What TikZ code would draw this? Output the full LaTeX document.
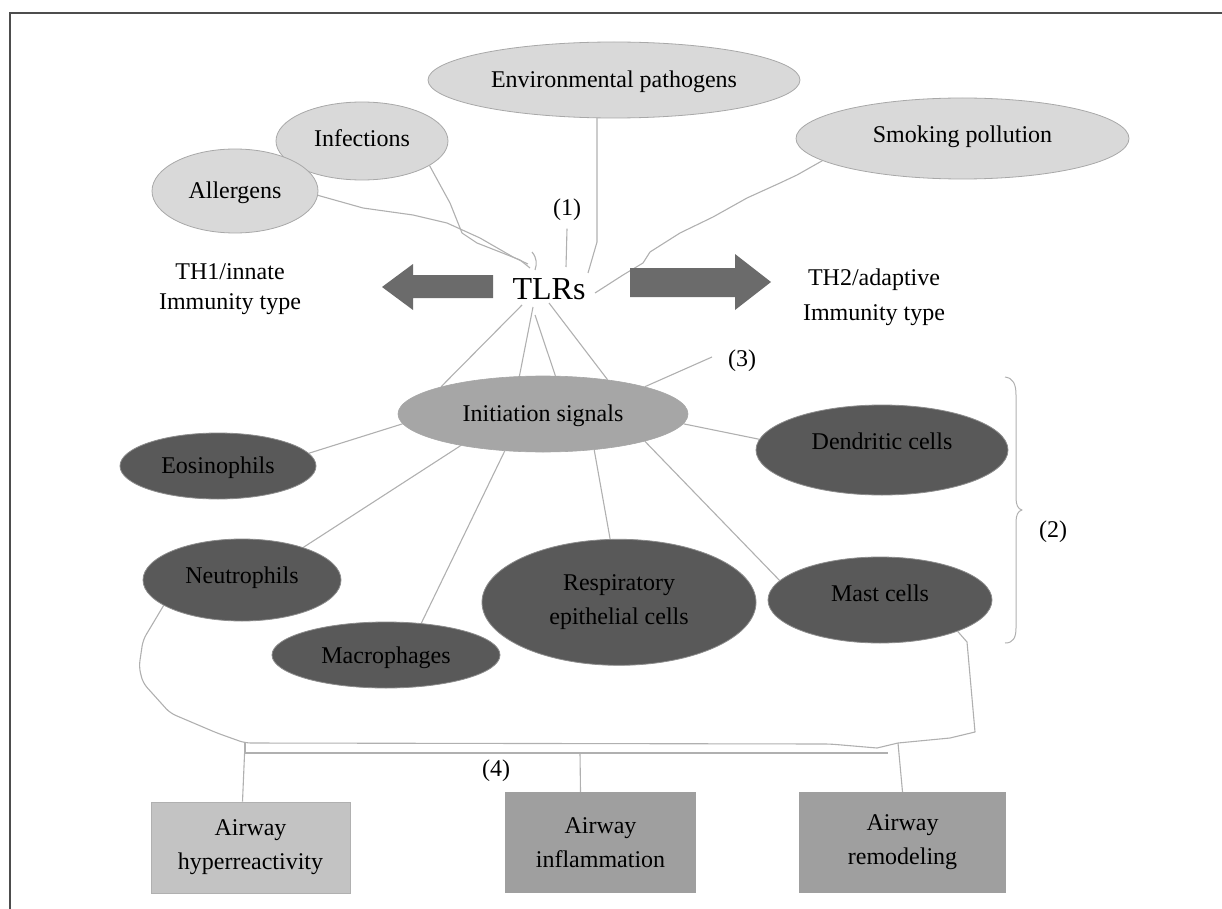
\documentclass[tikz,border=0pt]{standalone}
\usepackage{fontspec}
\setmainfont{Liberation Serif}
\usetikzlibrary{shapes.geometric,backgrounds}
\definecolor{lightfill}{HTML}{D9D9D9}
\definecolor{lightedge}{HTML}{A8A8A8}
\definecolor{midfill}{HTML}{A6A6A6}
\definecolor{darkfill}{HTML}{595959}
\definecolor{darkedge}{HTML}{8C8C8C}
\definecolor{linkgray}{HTML}{B0B0B0}
\definecolor{arrowgray}{HTML}{6B6B6B}
\definecolor{framegray}{HTML}{4D4D4D}
\definecolor{boxlight}{HTML}{C3C3C3}
\definecolor{boxlightedge}{HTML}{B0B0B0}
\definecolor{boxdark}{HTML}{9F9F9F}
\begin{document}
\begin{tikzpicture}[x=1pt,y=-1pt,
  txt/.style={inner sep=0pt, font=\fontsize{24}{30}\selectfont},
  ovalbase/.style={ellipse, inner sep=0pt, font=\fontsize{24}{34}\selectfont},
  oneline/.style={text height=16pt, text depth=0pt},
  lightoval/.style={ovalbase, oneline, fill=lightfill, draw=lightedge, line width=0.8pt},
  midoval/.style={ovalbase, oneline, fill=midfill, draw=midfill, line width=0.6pt},
  darkoval/.style={ovalbase, oneline, fill=darkfill, draw=darkedge, line width=0.8pt},
  darkovalml/.style={ovalbase, align=center, fill=darkfill, draw=darkedge, line width=0.8pt},
  outcome/.style={rectangle, inner sep=0pt, align=center, font=\fontsize{24}{34}\selectfont},
  link/.style={draw=linkgray, line width=1.1pt, line join=round},
  tag/.style={inner sep=0pt, font=\fontsize{24}{26}\selectfont, text height=16pt, text depth=0pt},
]
\useasboundingbox (0,0) rectangle (1222,909);
% frame
\draw[framegray, line width=1.6pt] (10,909) -- (10,13) -- (1222,13);

% source ellipses
\node[lightoval, minimum width=372pt, minimum height=76pt] (env) at (614,80) {Environmental pathogens};
\node[lightoval, minimum width=172pt, minimum height=78pt, text depth=4pt] (infections) at (362,141) {Infections};
\node[lightoval, minimum width=166pt, minimum height=84pt] (allergens) at (235,191) {Allergens};
\node[lightoval, minimum width=333pt, minimum height=81pt, text depth=7pt] (smoking) at (962.5,138.5) {Smoking pollution};

% centre
\node[inner sep=0pt, font=\fontsize{32}{32}\selectfont, text height=21pt, text depth=0pt] (tlrs) at (549,289) {TLRs};
\node[tag] (one) at (567,207) {(1)};

% arrows
\fill[arrowgray] (493,275) -- (413,275) -- (413,264) -- (382,287) -- (413,310) -- (413,298) -- (493,298) -- cycle;
\fill[arrowgray] (630,268) -- (735,268) -- (735,254) -- (771,282) -- (735,310) -- (735,297) -- (630,297) -- cycle;

\node[txt, align=center, font=\fontsize{24}{30}\selectfont] (th1) at (230,289.4) {TH1/innate\\Immunity type};
\node[txt, align=center, font=\fontsize{24}{35}\selectfont] (th2) at (874,296.9) {TH2/adaptive\\Immunity type};

% initiation
\node[midoval, minimum width=290pt, minimum height=76pt, text depth=2pt] (init) at (543,414) {Initiation signals};
\node[tag] (three) at (742,358) {(3)};
\coordinate (c3) at (712,357);

% cells
\node[darkoval, minimum width=196pt, minimum height=66pt, text depth=2pt] (eos) at (218,466) {Eosinophils};
\node[darkoval, minimum width=252pt, minimum height=90pt, text depth=18pt] (dend) at (882,450) {Dendritic cells};
\node[darkoval, minimum width=198pt, minimum height=82pt, text depth=10pt] (neut) at (242,580) {Neutrophils};
\node[darkoval, minimum width=228pt, minimum height=66pt] (macro) at (386,655) {Macrophages};
\node[darkovalml, minimum width=274pt, minimum height=126pt] (resp) at (619,602.3) {Respiratory\\epithelial cells};
\node[darkoval, minimum width=224pt, minimum height=86pt, text depth=14pt] (mast) at (880,600) {Mast cells};

\node[tag] (two) at (1053,529) {(2)};
\node[tag] (four) at (496,768) {(4)};

% outcomes
\node[outcome, fill=boxlight, draw=boxlightedge, line width=0.8pt, minimum width=199pt, minimum height=91pt] (hyper) at (250.5,847.5) {Airway\\hyperreactivity};
\node[outcome, fill=boxdark, minimum width=191pt, minimum height=101pt] (infl) at (600.5,842.5) {Airway\\inflammation};
\node[outcome, fill=boxdark, minimum width=207pt, minimum height=101pt] (remod) at (902.5,842.5) {Airway\\remodeling};

% bus coordinates
\coordinate (busL) at (245,743);
\coordinate (busJ) at (877,748);
\coordinate (busLow) at (245,753);
\coordinate (busLowR) at (888,753);
\coordinate (tapI) at (580,753);
\coordinate (tapR) at (898,743);

\begin{scope}[on background layer]
% sources to TLRs
\draw[link] (allergens.-3) -- (363,208) -- (413,215) -- (447,223) -- (480,238) -- (513,257) -- ([shift={(-21,-25)}]tlrs.center);
\draw[link] (infections.-20) -- (450,203) -- (462,233) -- (477,243) -- (500,252) -- (520,260) -- ([shift={(-19,-21)}]tlrs.center);
\draw[link] (env.246) -- (597,242) -- ([shift={(39,-16)}]tlrs.center);
\draw[link] (smoking.189) -- (797,175) -- (780,183) -- (747,198) -- (713,217) -- (680,233) -- (650,252) -- (643,263) -- (623,275) -- ([shift={(46,4)}]tlrs.center);
\draw[link] ([yshift=-13.5pt]one.south) -- ([shift={(17,-22)}]tlrs.center);
\draw[link] ([shift={(-17,-37)}]tlrs.center) .. controls ([shift={(-12,-31)}]tlrs.center) and ([shift={(-12,-25)}]tlrs.center) .. ([shift={(-14,-19)}]tlrs.center);
% TLRs to initiation
\draw[link] ([shift={(-27,16)}]tlrs.center) -- (init.165);
\draw[link] ([shift={(-16,18)}]tlrs.center) -- (init.122);
\draw[link] ([shift={(-14,26)}]tlrs.center) -- (init.72);
\draw[link] ([shift={(0,14)}]tlrs.center) -- (init.28);
\draw[link] (init.15) -- (c3);
% initiation to cells
\draw[link] (init.184) -- (eos.8);
\draw[link] (init.-4) -- (dend.175);
\draw[link] (init.201) -- (neut.28);
\draw[link] (init.224) -- (macro.42);
\draw[link] (init.-35) -- (resp.98);
\draw[link] (init.-15) -- (mast.169);
% cells to bus
\draw[link, rounded corners=6pt] (neut.198) -- (143,640) -- (139,667) -- (143,683) -- (170,713) -- (217,733) -- (busL) -- (830,744) -- (busJ);
\draw[link] (mast.-22) -- (967,642) -- (975,732) -- (950,738) -- (tapR) -- (busJ);
\draw[link] (busL) -- (busLow) -- (busLowR);
\draw[link] (busL) -- ([xshift=-8pt]hyper.north);
\draw[link] (tapI) -- ([xshift=-20pt]infl.north);
\draw[link] (tapR) -- (remod.north);
\end{scope}

% brace
\draw[link, line width=1pt] (1005,377) .. controls (1013,378) and (1016,384) .. (1016,395) -- (1016,498) .. controls (1016,505) and (1018,509) .. (1022,510) .. controls (1018,511) and (1016,515) .. (1016,522) -- (1016,628) .. controls (1016,638) and (1013,643) .. (1005,643);
\end{tikzpicture}
\end{document}
